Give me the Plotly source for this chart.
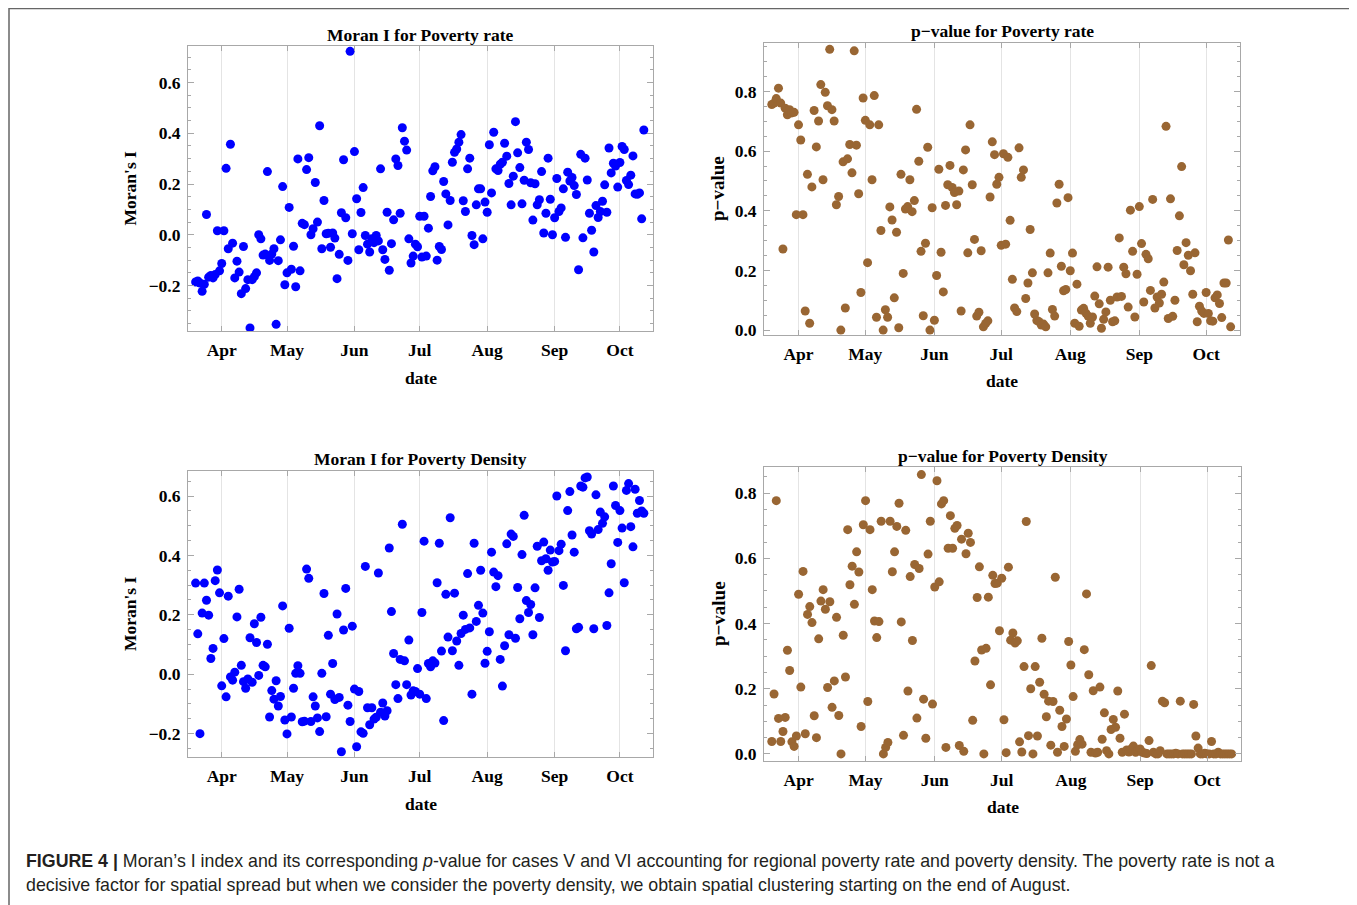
import pandas as pd
import plotly.graph_objects as go

# ---------------- data ----------------
start_date = "2020-03-20"
end_date = "2020-10-12"
month_ticks = ["2020-04-01", "2020-05-01", "2020-06-01", "2020-07-01",
               "2020-08-01", "2020-09-01", "2020-10-01"]
month_labels = ["Apr", "May", "Jun", "Jul", "Aug", "Sep", "Oct"]

rate_moran = [
    -0.186, -0.182, -0.190, -0.223, -0.195, 0.080, -0.167, -0.160, -0.170, -0.157,
    0.016, -0.142, -0.113, 0.016, 0.262, -0.055, 0.357, -0.033, -0.170, -0.104,
    -0.147, -0.232, -0.046, -0.212, -0.177, -0.367, -0.177, -0.165, -0.150, 0.0,
    -0.016, -0.080, -0.076, 0.249, -0.101, -0.076, -0.055, -0.353, -0.102, -0.020,
    0.190, -0.197, -0.150, 0.108, -0.136, -0.045, -0.205, 0.299, -0.142, 0.045,
    0.040, 0.257, 0.304, 0.0, 0.024, 0.206, 0.050, 0.430, -0.055, 0.135,
    0.004, 0.006, -0.049, 0.007, -0.013, -0.173, -0.077, 0.087, 0.296, 0.067,
    -0.101, 0.723, 0.004, 0.328, 0.142, -0.059, 0.088, 0.186, -0.003, -0.037,
    -0.068, -0.016, -0.031, -0.003, -0.024, 0.260, -0.059, -0.097, 0.089, -0.140,
    -0.035, 0.059, 0.299, 0.273, 0.085, 0.422, 0.369, 0.334, -0.016, -0.111,
    -0.084, -0.037, -0.047, 0.073, -0.088, 0.073, -0.084, 0.026, 0.151, 0.252,
    0.268, -0.100, -0.046, -0.058, 0.210, 0.161, 0.039, 0.135, 0.286, 0.325,
    0.338, 0.365, 0.395, 0.134, 0.092, 0.260, 0.302, -0.003, -0.039, 0.118,
    0.181, 0.181, -0.016, 0.129, 0.089, 0.355, 0.165, 0.404, 0.260, 0.253,
    0.278, 0.286, 0.361, 0.310, 0.202, 0.118, 0.231, 0.446, 0.323, 0.265,
    0.122, 0.215, 0.365, 0.336, 0.205, 0.058, 0.201, 0.118, 0.138, 0.249,
    0.007, 0.085, 0.302, 0.140, 0.0, 0.067, 0.222, 0.092, 0.106, 0.181,
    -0.010, 0.247, 0.212, 0.226, 0.194, 0.159, -0.138, 0.317, -0.012, 0.302,
    0.216, 0.085, 0.018, -0.068, 0.115, 0.068, 0.092, 0.132, 0.197, 0.089,
    0.342, 0.244, 0.282, 0.271, 0.188, 0.285, 0.348, 0.336, 0.214, 0.198,
    0.235, 0.311, 0.161, 0.160, 0.165, 0.063, 0.413]

rate_p = [
    0.756, 0.761, 0.776, 0.811, 0.761, 0.272, 0.744, 0.722, 0.739, 0.728,
    0.730, 0.387, 0.688, 0.637, 0.387, 0.064, 0.522, 0.023, 0.480, 0.736,
    0.614, 0.701, 0.823, 0.504, 0.797, 0.752, 0.941, 0.739, 0.701, 0.420,
    0.448, 0.0, 0.564, 0.074, 0.574, 0.622, 0.527, 0.936, 0.620, 0.457,
    0.126, 0.778, 0.703, 0.226, 0.688, 0.504, 0.786, 0.043, 0.688, 0.334,
    0.0, 0.068, 0.043, 0.413, 0.369, 0.108, 0.328, 0.008, 0.522, 0.190,
    0.406, 0.414, 0.504, 0.397, 0.434, 0.740, 0.566, 0.264, 0.048, 0.291,
    0.613, 0.0, 0.410, 0.033, 0.183, 0.539, 0.261, 0.128, 0.418, 0.487,
    0.552, 0.478, 0.461, 0.420, 0.466, 0.064, 0.537, 0.604, 0.259, 0.688,
    0.487, 0.304, 0.047, 0.060, 0.266, 0.011, 0.022, 0.031, 0.446, 0.631,
    0.588, 0.489, 0.512, 0.284, 0.591, 0.288, 0.579, 0.368, 0.170, 0.074,
    0.062, 0.611, 0.512, 0.537, 0.106, 0.158, 0.337, 0.192, 0.054, 0.032,
    0.028, 0.017, 0.020, 0.011, 0.192, 0.258, 0.069, 0.047, 0.426, 0.489,
    0.214, 0.132, 0.136, 0.444, 0.199, 0.258, 0.023, 0.154, 0.013, 0.067,
    0.073, 0.057, 0.047, 0.023, 0.044, 0.114, 0.212, 0.088, 0.006, 0.036,
    0.061, 0.211, 0.100, 0.028, 0.031, 0.111, 0.309, 0.113, 0.211, 0.189,
    0.077, 0.402, 0.264, 0.044, 0.187, 0.414, 0.290, 0.094, 0.254, 0.239,
    0.133, 0.438, 0.074, 0.111, 0.091, 0.120, 0.161, 0.683, 0.039, 0.440,
    0.046, 0.100, 0.267, 0.383, 0.548, 0.219, 0.293, 0.251, 0.199, 0.120,
    0.259, 0.028, 0.080, 0.064, 0.056, 0.126, 0.056, 0.031, 0.030, 0.108,
    0.118, 0.089, 0.042, 0.158, 0.158, 0.302, 0.011]

density_moran = [
    0.307, 0.136, -0.200, 0.206, 0.307, 0.249, 0.199, 0.053, 0.087, 0.315,
    0.351, 0.274, -0.039, 0.120, -0.076, 0.263, -0.009, -0.020, 0.007, 0.193,
    0.286, 0.030, -0.025, -0.047, -0.016, 0.123, -0.027, 0.170, 0.107, -0.004,
    0.192, 0.030, 0.025, 0.101, -0.144, -0.055, -0.084, -0.022, -0.107, -0.075,
    0.230, -0.154, -0.201, 0.155, -0.144, -0.047, 0.003, 0.029, 0.003, -0.160,
    -0.158, 0.354, 0.323, -0.159, -0.076, -0.107, -0.147, -0.193, 0.003, 0.272,
    -0.143, 0.131, -0.067, 0.036, -0.085, 0.203, -0.078, -0.261, 0.149, 0.289,
    -0.104, -0.159, 0.162, -0.050, -0.244, -0.058, -0.194, -0.199, 0.363, -0.113,
    -0.170, -0.113, -0.151, -0.145, 0.341, -0.128, -0.097, -0.141, -0.123, 0.425,
    0.211, 0.070, -0.035, -0.082, 0.050, 0.505, 0.045, -0.035, 0.115, -0.070,
    -0.056, -0.058, 0.019, -0.067, 0.208, 0.448, -0.082, 0.036, 0.025, 0.045,
    0.038, 0.308, 0.441, 0.078, -0.156, 0.269, 0.125, 0.527, 0.079, 0.273,
    0.112, 0.030, 0.137, 0.199, 0.151, 0.339, 0.156, -0.067, 0.441, 0.178,
    0.232, 0.350, 0.206, 0.037, 0.077, 0.143, 0.411, 0.344, 0.295, 0.332,
    0.050, -0.040, 0.096, 0.439, 0.133, 0.472, 0.464, 0.121, 0.292, 0.187,
    0.403, 0.535, 0.248, 0.208, 0.235, 0.133, 0.291, 0.431, 0.191, 0.382,
    0.445, 0.389, 0.350, 0.418, 0.378, 0.380, 0.600, 0.416, 0.438, 0.299,
    0.079, 0.551, 0.615, 0.469, 0.411, 0.153, 0.158, 0.634, 0.630, 0.661,
    0.664, 0.483, 0.472, 0.153, 0.604, 0.487, 0.546, 0.508, 0.530, 0.164,
    0.274, 0.372, 0.634, 0.568, 0.444, 0.551, 0.492, 0.308, 0.619, 0.642,
    0.497, 0.429, 0.623, 0.542, 0.585, 0.550, 0.542]

density_p = [
    0.038, 0.184, 0.777, 0.109, 0.038, 0.069, 0.112, 0.318, 0.256, 0.037,
    0.023, 0.055, 0.490, 0.205, 0.560, 0.062, 0.428, 0.452, 0.403, 0.117,
    0.050, 0.353, 0.469, 0.504, 0.444, 0.204, 0.467, 0.143, 0.224, 0.419,
    0.118, 0.0, 0.364, 0.236, 0.688, 0.519, 0.576, 0.459, 0.620, 0.558,
    0.084, 0.703, 0.777, 0.161, 0.688, 0.504, 0.408, 0.357, 0.406, 0.714,
    0.0, 0.020, 0.035, 0.714, 0.559, 0.620, 0.698, 0.769, 0.405, 0.057,
    0.686, 0.193, 0.544, 0.348, 0.581, 0.110, 0.569, 0.857, 0.168, 0.048,
    0.613, 0.714, 0.153, 0.512, 0.838, 0.528, 0.767, 0.777, 0.020, 0.631,
    0.731, 0.631, 0.692, 0.701, 0.026, 0.659, 0.008, 0.614, 0.677, 0.649,
    0.103, 0.285, 0.480, 0.574, 0.319, 0.0, 0.324, 0.481, 0.212, 0.548,
    0.523, 0.524, 0.378, 0.539, 0.105, 0.004, 0.573, 0.349, 0.371, 0.340,
    0.347, 0.037, 0.006, 0.268, 0.713, 0.056, 0.200, 0.0, 0.268, 0.055,
    0.220, 0.355, 0.183, 0.114, 0.162, 0.027, 0.161, 0.542, 0.005, 0.134,
    0.084, 0.023, 0.107, 0.345, 0.273, 0.176, 0.008, 0.028, 0.044, 0.030,
    0.320, 0.491, 0.243, 0.005, 0.194, 0.003, 0.005, 0.205, 0.045, 0.126,
    0.010, 0.0, 0.075, 0.106, 0.082, 0.193, 0.048, 0.005, 0.122, 0.012,
    0.006, 0.015, 0.024, 0.005, 0.012, 0.015, 0.005, 0.003, 0.001, 0.041,
    0.271, 0.005, 0.0, 0.0, 0.010, 0.162, 0.157, 0.0, 0.0, 0.0,
    0.0, 0.002, 0.0, 0.162, 0.0, 0.0, 0.0, 0.0, 0.0, 0.152,
    0.055, 0.018, 0.0, 0.0, 0.002, 0.0, 0.0, 0.038, 0.0, 0.0,
    0.005, 0.0, 0.0, 0.0, 0.0, 0.0, 0.0]

panel_titles = ["Moran I for Poverty rate", "p\u2212value for Poverty rate",
                "Moran I for Poverty Density", "p\u2212value for Poverty Density"]
y_titles = ["Moran's I", "p\u2212value", "Moran's I", "p\u2212value"]
x_title = "date"
caption_line1 = ("<b>FIGURE 4 |</b> Moran\u2019s I index and its corresponding <i>p</i>-value for cases V and VI "
                 "accounting for regional poverty rate and poverty density. The poverty rate is not a")
caption_line2 = ("decisive factor for spatial spread but when we consider the poverty density, "
                 "we obtain spatial clustering starting on the end of August.")

# ---------------- layout helpers ----------------
OFF = 8                      # default page margin of the html body
W, H = 1357 - OFF, 905 - OFF
BLUE = "#0000FF"
BROWN = "#996633"
FRAME = "#a8a8a8"
SERIF = "Liberation Serif, Times New Roman, serif"
FS = 17.5

dates = pd.date_range(start_date, end_date, freq="D")


def fx(p):
    return (p - OFF) / W


def fy(p):
    return 1 - (p - OFF) / H


# (left, right, top, bottom) pixel boxes (page coordinates) and y ranges
panels = [
    dict(vals=rate_moran, color=BLUE, box=(188, 653, 46, 333), yr=[-0.380, 0.745],
         title_y=35, ylab_x=130, date_y=380),
    dict(vals=rate_p, color=BROWN, box=(764, 1240, 43, 337), yr=[-0.017, 0.963],
         title_y=31, ylab_x=718, date_y=383),
    dict(vals=density_moran, color=BLUE, box=(188, 653, 474, 761), yr=[-0.278, 0.683],
         title_y=462, ylab_x=130, date_y=808),
    dict(vals=density_p, color=BROWN, box=(764, 1241, 470, 765), yr=[-0.021, 0.879],
         title_y=459, ylab_x=718, date_y=811),
]

x_range = ["2020-03-16 12:00", "2020-10-16 05:00"]

fig = go.Figure()
annotations = []
tick_font = dict(family=SERIF, size=FS, color="black", weight="bold")

for i, p in enumerate(panels):
    n = i + 1
    xa = "x" if n == 1 else f"x{n}"
    ya = "y" if n == 1 else f"y{n}"
    vals = p["vals"]
    fig.add_trace(go.Scatter(
        x=dates[:len(vals)], y=vals, mode="markers",
        marker=dict(size=9, color=p["color"], line=dict(width=0)),
        xaxis=xa, yaxis=ya, showlegend=False, hoverinfo="x+y"))
    l, r, t, b = p["box"]
    xkey = "xaxis" if n == 1 else f"xaxis{n}"
    ykey = "yaxis" if n == 1 else f"yaxis{n}"
    fig.layout[xkey] = dict(
        domain=[fx(l), fx(r)], anchor=ya, type="date", range=x_range,
        tickmode="array", tickvals=month_ticks, ticktext=month_labels,
        showgrid=True, gridcolor="#e4e4e4", gridwidth=1,
        showline=True, linecolor=FRAME, linewidth=1, mirror="allticks",
        ticks="inside", ticklen=5, tickcolor=FRAME, tickfont=tick_font,
        ticklabelstandoff=3, zeroline=False, fixedrange=True)
    fig.layout[ykey] = dict(
        domain=[fy(b), fy(t)], anchor=xa, range=p["yr"],
        tick0=0, dtick=0.2, tickformat=".1f",
        minor=dict(dtick=0.05, ticks="inside", ticklen=3, tickcolor=FRAME, showgrid=False),
        showgrid=False, zeroline=False,
        showline=True, linecolor=FRAME, linewidth=1, mirror="allticks",
        ticks="inside", ticklen=6, tickcolor=FRAME, tickfont=tick_font,
        ticklabelstandoff=3, fixedrange=True)
    cx = (l + r) / 2
    annotations.append(dict(
        text=f"<b>{panel_titles[i]}</b>", x=fx(cx), y=fy(p["title_y"]),
        xref="paper", yref="paper", xanchor="center", yanchor="middle",
        showarrow=False, font=dict(family=SERIF, size=FS, color="black")))
    annotations.append(dict(
        text=f"<b>{x_title}</b>", x=fx(cx), y=fy(p["date_y"]),
        xref="paper", yref="paper", xanchor="center", yanchor="middle",
        showarrow=False, font=dict(family=SERIF, size=FS, color="black")))
    annotations.append(dict(
        text=f"<b>{y_titles[i]}</b>", x=fx(p["ylab_x"]), y=fy((t + b) / 2),
        xref="paper", yref="paper", xanchor="center", yanchor="middle",
        textangle=-90, showarrow=False,
        font=dict(family=SERIF, size=FS if i % 2 == 0 else 19, color="black")))

SANS = "Liberation Sans, Arial, Helvetica, sans-serif"
CAP = 17.8
annotations.append(dict(
    text=caption_line1, x=fx(24), y=fy(866), xref="paper", yref="paper",
    xanchor="left", yanchor="middle", showarrow=False, align="left",
    font=dict(family=SANS, size=CAP, color="#231f20")))
annotations.append(dict(
    text=caption_line2, x=fx(24), y=fy(890), xref="paper", yref="paper",
    xanchor="left", yanchor="middle", showarrow=False, align="left",
    font=dict(family=SANS, size=CAP, color="#231f20")))

fig.update_layout(
    width=W, height=H, autosize=False,
    margin=dict(l=0, r=0, t=0, b=0),
    paper_bgcolor="white", plot_bgcolor="white",
    annotations=annotations,
    shapes=[dict(type="rect", xref="paper", yref="paper",
                 x0=fx(9), x1=fx(1353), y0=-0.05, y1=fy(8.5),
                 line=dict(color="#666666", width=1.5), fillcolor="rgba(0,0,0,0)")],
)

fig.write_html(
    "out.html",
    post_script="document.documentElement.style.overflow='hidden';"
                "document.body.style.overflow='hidden';")
